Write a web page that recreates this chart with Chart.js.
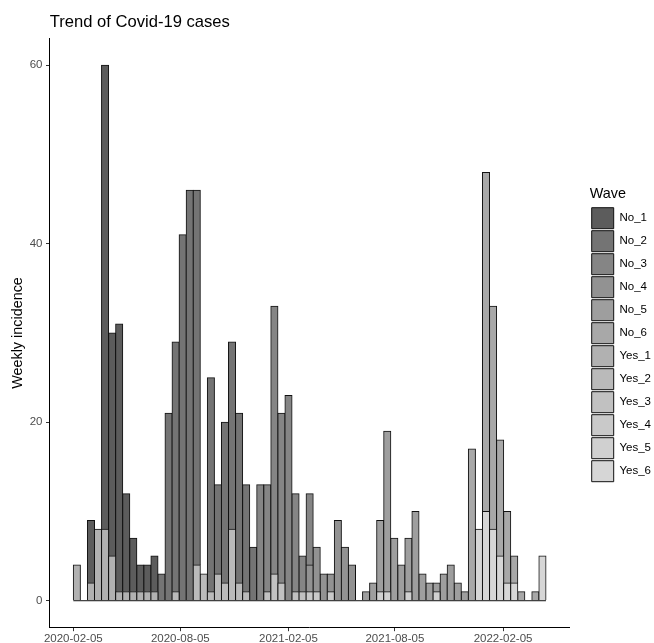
<!DOCTYPE html>
<html>
<head>
<meta charset="utf-8">
<title>Trend of Covid-19 cases</title>
<script src="https://cdn.jsdelivr.net/npm/chart.js@4.4.1/dist/chart.umd.min.js"></script>
<style>
  html, body { margin: 0; padding: 0; background: #fff; }
</style>
</head>
<body>
<canvas id="covidChart" width="654" height="643"></canvas>
<script>
// histogram bins: 12 days each, first bin starts on 2020-02-05
const binStart = "2020-02-05";
const binDays = 12;

// cases per bin, split by the Yes/No part of each bar
const noCases = [0, 0, 7, 0, 52, 25, 30, 11, 6, 3, 3, 4, 3, 21, 28, 41, 46, 42, 0, 24,
  10, 18, 21, 19, 12, 6, 13, 12, 30, 19, 23, 11, 4, 11, 5, 3, 2, 9, 6, 4,
  0, 1, 2, 8, 18, 7, 4, 6, 10, 3, 2, 1, 3, 4, 2, 1, 17, 0, 38, 25,
  13, 8, 3, 1, 0, 1, 0];
const yesCases = [4, 0, 2, 8, 8, 5, 1, 1, 1, 1, 1, 1, 0, 0, 1, 0, 0, 4, 3, 1,
  3, 2, 8, 2, 1, 0, 0, 1, 3, 2, 0, 1, 1, 1, 1, 0, 1, 0, 0, 0,
  0, 0, 0, 1, 1, 0, 0, 1, 0, 0, 0, 1, 0, 0, 0, 0, 0, 8, 10, 8,
  5, 2, 2, 0, 0, 0, 5];

// first bin (0-based) of waves 1..6
const waveStartBin = [0, 12, 26, 33, 41, 56];
// bin 33 straddles waves 3 and 4, 8 of its "No" cases still belong to wave 3
const straddleBin = 33;
const straddleNoPrev = 8;

const waveNames = ["No_1", "No_2", "No_3", "No_4", "No_5", "No_6",
  "Yes_1", "Yes_2", "Yes_3", "Yes_4", "Yes_5", "Yes_6"];
const greys = ["#5c5c5c", "#747474", "#858585", "#929292", "#9e9e9e", "#a8a8a8",
  "#b1b1b1", "#bababa", "#c1c1c1", "#c9c9c9", "#d0d0d0", "#d6d6d6"];

const xTickLabels = ["2020-02-05", "2020-08-05", "2021-02-05", "2021-08-05", "2022-02-05"];
const yTicks = [0, 20, 40, 60];

const DAY = 86400000;
const t0 = Date.parse(binStart);
function dayOf(dateStr) {
  return (Date.parse(dateStr) - t0) / DAY;
}

const binMid = noCases.map((_, i) => i * binDays + binDays / 2);
const span = noCases.length * binDays;

function waveOf(i) {
  let w = 0;
  waveStartBin.forEach((s, k) => { if (i >= s) w = k; });
  return w;
}

function valuesFor(k) {
  const isYes = k >= 6;
  const wave = k % 6;
  return noCases.map((no, i) => {
    let n = 0;
    if (isYes) {
      if (waveOf(i) === wave) n = yesCases[i];
    } else {
      if (waveOf(i) === wave) n = no - (i === straddleBin ? straddleNoPrev : 0);
      if (i === straddleBin && waveOf(i) - 1 === wave) n = straddleNoPrev;
    }
    return n > 0 ? n : null;
  });
}

// ggplot puts the last level at the bottom of the stack, so Yes_6 goes first
const datasets = [];
for (let k = waveNames.length - 1; k >= 0; k--) {
  datasets.push({
    label: waveNames[k],
    data: valuesFor(k),
    backgroundColor: greys[k],
    borderColor: "#111",
    borderWidth: 1,
    inflateAmount: 0.5,
    barPercentage: 1,
    categoryPercentage: 1
  });
}

// outline of the empty bins along zero
datasets.push({
  type: "line",
  label: "baseline",
  data: [{ x: 0, y: 0 }, { x: span, y: 0 }],
  stack: "baseline",
  borderColor: "#111",
  borderWidth: 1,
  pointRadius: 0,
  order: -1
});

Chart.defaults.font.family = '"Liberation Sans", Arial, sans-serif';
Chart.defaults.color = "#000";

const axisGrid = { display: true, offset: false, drawOnChartArea: false, drawTicks: true, tickLength: 3.7, color: "#333", lineWidth: 1 };

new Chart(document.getElementById("covidChart"), {
  type: "bar",
  data: { labels: binMid, datasets: datasets },
  options: {
    responsive: false,
    animation: false,
    events: [],
    layout: { padding: 0 },
    scales: {
      x: {
        type: "linear",
        stacked: true,
        offset: false,
        min: -0.05 * span,
        max: span * 1.05,
        afterBuildTicks: s => { s.ticks = xTickLabels.map(d => ({ value: dayOf(d) })); },
        afterFit: s => { s.height = 15.5; },
        ticks: {
          autoSkip: false, maxRotation: 0, padding: 0.9, color: "#4d4d4d",
          font: { size: 11.5 },
          callback: (v, i) => xTickLabels[i]
        },
        grid: axisGrid,
        border: { display: true, color: "#000", width: 1 }
      },
      y: {
        stacked: true,
        min: -3,
        max: 63,
        afterBuildTicks: s => { s.ticks = yTicks.map(v => ({ value: v })); },
        afterFit: s => { s.width = 49.7; },
        ticks: { padding: 3.5, color: "#4d4d4d", font: { size: 11.5 } },
        grid: axisGrid,
        border: { display: true, color: "#000", width: 1 },
        title: { display: true, text: "Weekly incidence", color: "#000", font: { size: 14.4 }, padding: { top: 9.4, bottom: 0 } }
      },
      // empty strip between the panel and the legend
      gap: {
        type: "linear",
        position: "right",
        display: true,
        grid: { display: false },
        border: { display: false },
        ticks: { display: false },
        afterFit: s => { s.width = 20.1; }
      }
    },
    plugins: {
      title: {
        display: true,
        text: "Trend of Covid-19 cases",
        align: "start",
        fullSize: false,
        color: "#000",
        font: { size: 16.6, weight: "normal" },
        padding: { top: 12.7, bottom: 5.9 }
      },
      legend: {
        position: "right",
        reverse: true,
        maxWidth: 64.3,
        title: { display: true, text: "Wave", position: "start", color: "#000", font: { size: 14.4 }, padding: { top: 27.5, bottom: 1.6 } },
        labels: {
          boxWidth: 22,
          boxHeight: 21,
          padding: 2,
          color: "#000",
          font: { size: 11.5 },
          filter: item => item.text !== "baseline"
        }
      },
      tooltip: { enabled: false }
    }
  }
});
</script>
</body>
</html>
